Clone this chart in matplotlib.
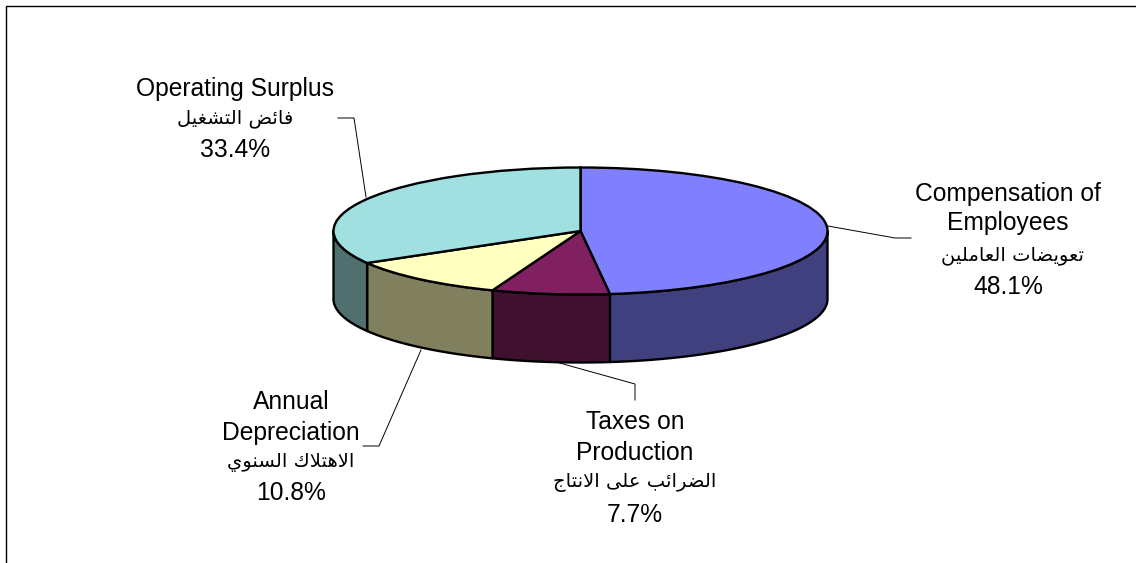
import numpy as np
import matplotlib
matplotlib.use('Agg')
import matplotlib.pyplot as plt
from matplotlib.lines import Line2D

plt.rcParams['font.family'] = ['Liberation Sans', 'DejaVu Sans']

# data, clockwise from 12 o'clock
names_en = [['Compensation of', 'Employees'], ['Taxes on', 'Production'],
            ['Annual', 'Depreciation'], ['Operating Surplus']]
names_ar = ['تعويضات العاملين', 'الضرائب على الانتاج', 'الاهتلاك السنوي', 'فائض التشغيل']
shares = [48.1, 7.7, 10.8, 33.4]

top_cols = ['#8080FF', '#802060', '#FFFFC0', '#A0E0E0']
side_cols = ['#40407F', '#40102F', '#80805F', '#507070']

W, H = 1136, 563
# pie ellipse in pixels
x0, x1 = 333.5, 827.5
y0, y1 = 167.5, 294.5
depth = 68 / ((y1 - y0) / 2)  # wall height in axes units

# Arabic has to be shaped by hand, matplotlib does not join letters
forms = {
    'ا': (0xFE8D, 0xFE8E, None, None), 'ئ': (0xFE89, 0xFE8A, 0xFE8B, 0xFE8C),
    'ب': (0xFE8F, 0xFE90, 0xFE91, 0xFE92), 'ت': (0xFE95, 0xFE96, 0xFE97, 0xFE98),
    'ج': (0xFE9D, 0xFE9E, 0xFE9F, 0xFEA0), 'ر': (0xFEAD, 0xFEAE, None, None),
    'س': (0xFEB1, 0xFEB2, 0xFEB3, 0xFEB4), 'ش': (0xFEB5, 0xFEB6, 0xFEB7, 0xFEB8),
    'ض': (0xFEBD, 0xFEBE, 0xFEBF, 0xFEC0), 'ع': (0xFEC9, 0xFECA, 0xFECB, 0xFECC),
    'غ': (0xFECD, 0xFECE, 0xFECF, 0xFED0), 'ف': (0xFED1, 0xFED2, 0xFED3, 0xFED4),
    'ك': (0xFED9, 0xFEDA, 0xFEDB, 0xFEDC), 'ل': (0xFEDD, 0xFEDE, 0xFEDF, 0xFEE0),
    'م': (0xFEE1, 0xFEE2, 0xFEE3, 0xFEE4), 'ن': (0xFEE5, 0xFEE6, 0xFEE7, 0xFEE8),
    'ه': (0xFEE9, 0xFEEA, 0xFEEB, 0xFEEC), 'و': (0xFEED, 0xFEEE, None, None),
    'ي': (0xFEF1, 0xFEF2, 0xFEF3, 0xFEF4), 'ى': (0xFEEF, 0xFEF0, None, None),
    'لا': (0xFEFB, 0xFEFC, None, None),
}


def shape(text):
    text = text.replace('لا', '\ue000')
    letters = ['لا' if c == '\ue000' else c for c in text]
    out = []
    for i, c in enumerate(letters):
        if c == ' ':
            out.append(c)
            continue
        prev = letters[i - 1] if i > 0 else ' '
        nxt = letters[i + 1] if i < len(letters) - 1 else ' '
        from_right = prev != ' ' and forms[prev][2] is not None
        to_left = nxt != ' ' and forms[c][2] is not None
        if from_right and to_left:
            code = forms[c][3]
        elif from_right:
            code = forms[c][1]
        elif to_left:
            code = forms[c][2]
        else:
            code = forms[c][0]
        out.append(chr(code))
    return ''.join(reversed(out))


fig = plt.figure(figsize=(W / 100, H / 100), dpi=100)
ax = fig.add_axes([x0 / W, 1 - y1 / H, (x1 - x0) / W, (y1 - y0) / H])

# walls first, only the front half of the rim is visible
edges = np.cumsum([0] + shares) / sum(shares) * 2 * np.pi
for start, stop, col in zip(edges[:-1], edges[1:], side_cols):
    a, b = max(start, np.pi / 2), min(stop, 3 * np.pi / 2)
    if b <= a:
        continue
    t = np.linspace(a, b, 80)
    xs, ys = np.sin(t), np.cos(t)
    ax.fill(np.r_[xs, xs[::-1]], np.r_[ys, ys[::-1] - depth], facecolor=col,
            edgecolor='black', linewidth=1.7, clip_on=False, joinstyle='round')

wedges, _ = ax.pie(shares, colors=top_cols, startangle=90, counterclock=False,
                   radius=1, wedgeprops={'edgecolor': 'black', 'linewidth': 1.7})
for w in wedges:
    w.set_clip_on(False)
ax.set_aspect('auto')
ax.set_xlim(-1, 1)
ax.set_ylim(-1, 1)
ax.axis('off')


def fig_text(x, y, s, **kw):
    fig.text(x / W, 1 - y / H, s, ha='center', va='center', color='black', **kw)


# label blocks: centre x, y of each line, then Arabic x and y, percent y
label_pos = [(1008, [194, 223], 1012, 255, 287), (635, [422, 453], 635, 483, 515),
             (291, [402, 433], 291, 463, 493), (235, [89], 235, 118, 150)]
for en, ar, share, (cx, en_y, ar_x, ar_y, pct_y) in zip(names_en, names_ar, shares, label_pos):
    for line, y in zip(en, en_y):
        fig_text(cx, y, line, fontsize=17.7)
    fig_text(ar_x, ar_y, shape(ar), fontsize=14, family='DejaVu Sans')
    fig_text(cx, pct_y, f'{share}%', fontsize=17.7)

# leader lines
leaders = [([828, 895, 911], [226, 238, 238]),
           ([556, 635, 635], [362, 384, 400]),
           ([421, 379, 363], [350, 446, 446]),
           ([366, 354, 338], [197, 118, 118])]
for xs, ys in leaders:
    fig.add_artist(Line2D(np.array(xs) / W, 1 - np.array(ys) / H, color='black', linewidth=0.7))

# chart area border, cut off at the right and bottom of the image
fig.add_artist(Line2D([6 / W, 6 / W, 1], [0, 1 - 5.5 / H, 1 - 5.5 / H], color='black', linewidth=1.0))

fig.savefig('out.png', dpi=100)
